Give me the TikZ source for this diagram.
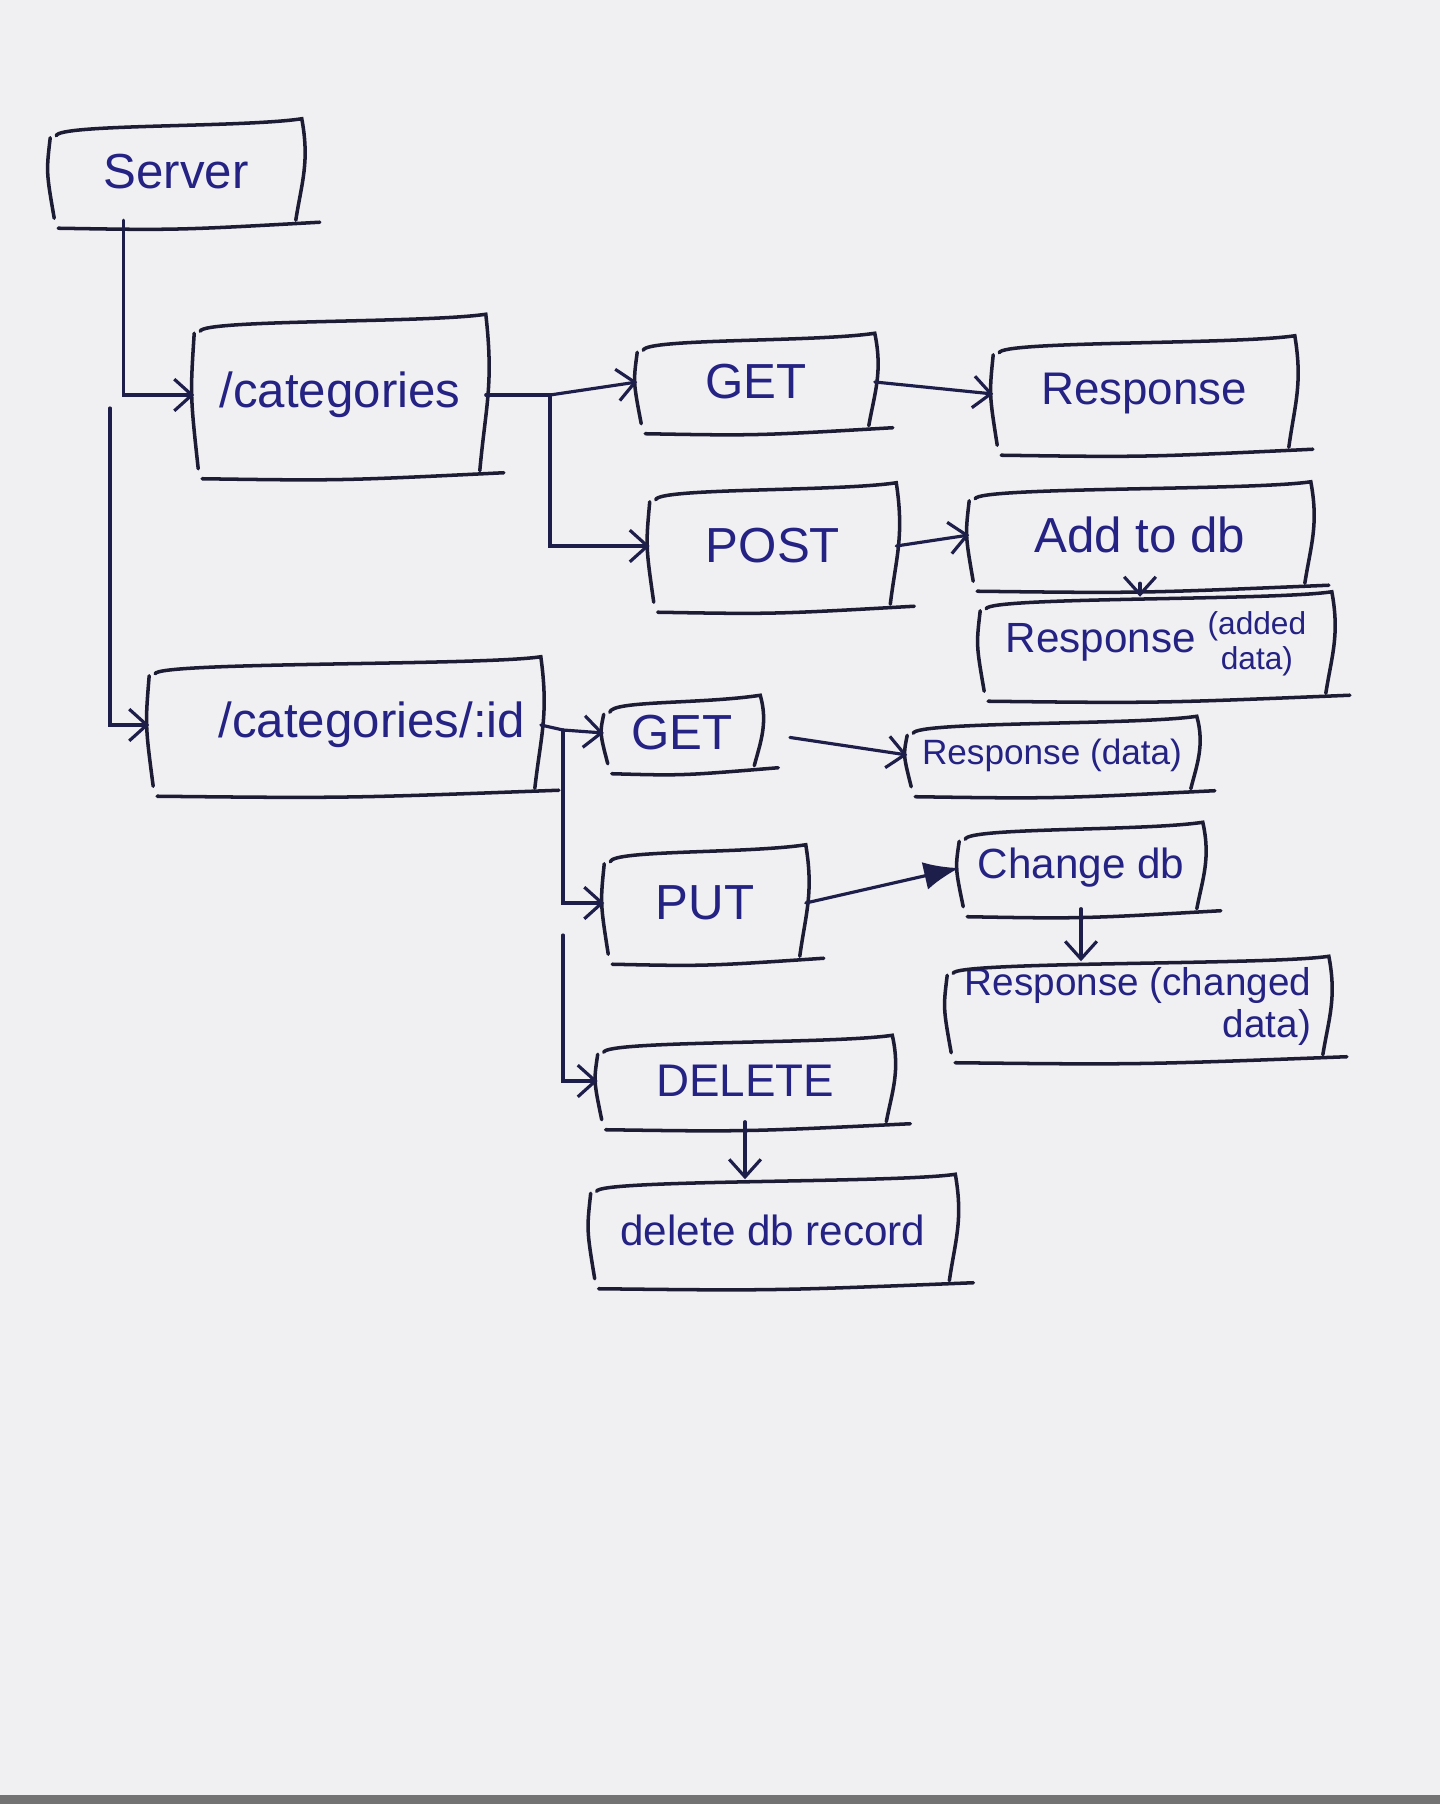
\documentclass[tikz,border=0pt]{standalone}
\usepackage{fontspec}
\setmainfont{Liberation Sans}
\usetikzlibrary{calc,arrows.meta}
\definecolor{paper}{RGB}{240,239,242}
\definecolor{inkblue}{RGB}{36,34,130}
\definecolor{penline}{RGB}{28,28,52}
\tikzset{
  hand/.style={text=inkblue, inner sep=0pt, font=\fontsize{14}{16}\selectfont},
  boxline/.style={line width=1pt, color=penline, line cap=round},
  conn/.style={line width=0.9pt, color=penline!70!inkblue, line cap=round},
  barb/.style={-{Straight Barb[length=5pt,width=9pt]}}
}
% sketchy open box round a node
\def\handbox#1{%
  \draw[boxline] ($(#1.north west)+(6,12)$) .. controls ($(#1.north west)+(8,0)$) and ($(#1.north east)+(-60,4)$) .. ($(#1.north east)+(0,-5)$)
    .. controls ($(#1.east)+(8,-10)$) and ($(#1.east)+(0,10)$) .. ($(#1.south east)+(-6,0)$);
  \draw[boxline] ($(#1.north west)+(0,14)$) .. controls ($(#1.west)+(-4,0)$) .. ($(#1.south west)+(4,-2)$);
  \draw[boxline] ($(#1.south west)+(8,8)$) .. controls ($(#1.south)+(0,10)$) .. ($(#1.south east)+(18,2)$);
}

\begin{document}
\begin{tikzpicture}[x=0.01cm,y=-0.01cm]
	%%%%% START %%%%%
	
	\fill[paper] (0,0) rectangle (1440,1804);
	\useasboundingbox (0,0) rectangle (1440,1804);
	\fill[black!55] (0,1795) rectangle (1440,1804);
	
	\node[hand, minimum width=2.5cm, minimum height=0.95cm] (srv) at (176,172) {Server};
	\node[hand, minimum width=2.9cm, minimum height=1.5cm] (cat) at (340,395) {/categories};
	\node[hand, text width=3.6cm, align=right, minimum width=3.9cm, minimum height=1.25cm] (catid) at (345,725) {/categories/:id};
	
	\node[hand, minimum width=2.36cm, minimum height=0.86cm] (getall) at (756,382) {GET};
	\node[hand, font=\fontsize{13}{15}\selectfont, minimum width=3.0cm, minimum height=1.05cm] (respall) at (1144,394) {Response};
	\node[hand, minimum width=2.45cm, minimum height=1.15cm] (post) at (773,546) {POST};
	\node[hand, minimum width=3.4cm, minimum height=0.95cm] (adddb) at (1140,535) {Add to db};
	\node[hand, font=\fontsize{12}{14}\selectfont, minimum width=3.5cm, minimum height=0.95cm] (respadd) at (1156,645) {Response {\fontsize{9}{10}\selectfont\begin{tabular}{@{}c@{}}(added\\ data)\end{tabular}}};
	
	\node[hand, minimum width=1.55cm, minimum height=0.64cm] (getone) at (682,733) {GET};
	\node[hand, font=\fontsize{10}{12}\selectfont, minimum width=2.88cm, minimum height=0.66cm] (respone) at (1052,755) {Response (data)};
	\node[hand, minimum width=2.0cm, minimum height=1.05cm] (put) at (705,903) {PUT};
	\node[hand, font=\fontsize{12}{14}\selectfont, minimum width=2.42cm, minimum height=0.8cm] (chgdb) at (1081,868) {Change db};
	\node[hand, font=\fontsize{11}{12}\selectfont, minimum width=3.8cm, minimum height=0.92cm] (respchg) at (1138,1008) {\begin{tabular}{@{}r@{}}Response (changed\\ data)\end{tabular}};
	\node[hand, font=\fontsize{13}{15}\selectfont, minimum width=2.93cm, minimum height=0.8cm] (del) at (745,1081) {DELETE};
	\node[hand, font=\fontsize{12}{14}\selectfont, minimum width=3.63cm, minimum height=1.0cm] (deldb) at (773,1230) {delete db record};
	
	\foreach \b in {srv,cat,catid,getall,respall,post,adddb,respadd,getone,respone,put,chgdb,respchg,del,deldb} {\handbox{\b}}
	
	% branch points
	\coordinate (idsplit) at (110,408);
	\coordinate (catfork) at (550,395);
	\coordinate (idfork) at (563,730);
	\coordinate (delsplit) at (563,935);
	
	\draw[conn, barb] ($(srv.south west)+(73,0)$) |- (cat.west);
	\draw[conn, barb] (idsplit) |- (catid.west);
	
	\draw[conn] (cat.east) -- (catfork);
	\draw[conn, barb] (catfork) -- (getall.west);
	\draw[conn, barb] (catfork) |- (post.west);
	\draw[conn, barb] (getall.east) -- (respall.west);
	\draw[conn, barb] (post.east) -- (adddb.west);
	\draw[conn, barb] (adddb.south) -- (adddb.south |- respadd.north);
	
	\draw[conn] (catid.east) -- (idfork);
	\draw[conn, barb] (idfork) -- (getone.west);
	\draw[conn, barb] (idfork) |- (put.west);
	\draw[conn, barb] (delsplit) |- (del.west);
	\draw[conn, barb, shorten <=0.3cm] (getone.east) -- (respone.west);
	\draw[conn, -{Latex[length=10pt,width=8pt]}] (put.east) -- (chgdb.west);
	\draw[conn, barb] (chgdb.south) -- (chgdb.south |- respchg.north);
	\draw[conn, barb] (del.south) -- (del.south |- deldb.north);
	
	%%%%% END %%%%%
\end{tikzpicture}
\end{document}
